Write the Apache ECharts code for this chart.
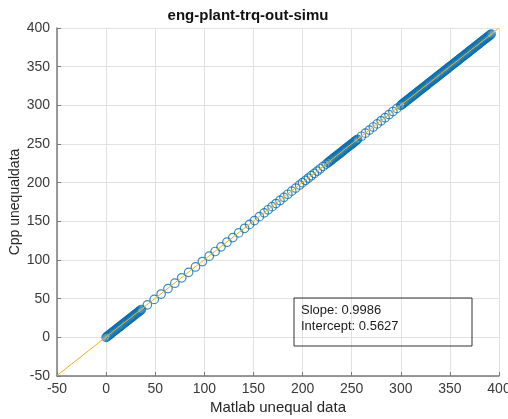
<!DOCTYPE html>
<html>
<head>
<meta charset="utf-8">
<script src="https://cdn.jsdelivr.net/npm/echarts@6/dist/echarts.min.js"></script>
<style>
  html, body { margin: 0; padding: 0; background: #fff; }
  #chart { width: 508px; height: 419px; }
</style>
</head>
<body>
<div id="chart"></div>
<script>
// Matlab vs Cpp values (they sit on the y = x line)
const denseLow = [
  [0, 0], [1, 1], [2, 2], [3, 3], [4, 4], [5, 5], [6, 6], [7, 7], [8, 8], [9, 9],
  [10, 10], [11, 11], [12, 12], [13, 13], [14, 14], [15, 15], [16, 16], [17, 17],
  [18, 18], [19, 19], [20, 20], [21, 21], [22, 22], [23, 23], [24, 24], [25, 25],
  [26, 26], [27, 27], [28, 28], [29, 29], [30, 30], [31, 31], [32, 32], [33, 33],
  [34, 34], [35, 35], [36, 36]
];
const sparseMid = [
  [42, 42], [49, 49], [56, 56], [63, 63], [70, 70], [77, 77], [84, 84], [91, 91],
  [98, 98], [105, 105], [111, 111], [117, 117], [123, 123], [129, 129], [135, 135],
  [141, 141], [146, 146], [151, 151], [156, 156], [161, 161], [165, 165], [169, 169],
  [173, 173], [177, 177], [181, 181], [185, 185], [189, 189], [193, 193], [197, 197],
  [200, 200], [203, 203], [206, 206], [209, 209], [212, 212], [215, 215], [218, 218],
  [221, 221], [224, 224]
];
const denseMid = [
  [226, 226], [227, 227], [228, 228], [229, 229], [230, 230], [231, 231], [232, 232],
  [233, 233], [234, 234], [235, 235], [236, 236], [237, 237], [238, 238], [239, 239],
  [240, 240], [241, 241], [242, 242], [243, 243], [244, 244], [245, 245], [246, 246],
  [247, 247], [248, 248], [249, 249], [250, 250], [251, 251], [252, 252], [253, 253],
  [254, 254], [255, 255], [256, 256]
];
const sparseHigh = [
  [260, 260], [264, 264], [268, 268], [272, 272], [276, 276], [280, 280], [284, 284],
  [288, 288], [292, 292], [296, 296]
];
const denseHigh = [
  [300, 300], [301, 301], [302, 302], [303, 303], [304, 304], [305, 305], [306, 306],
  [307, 307], [308, 308], [309, 309], [310, 310], [311, 311], [312, 312], [313, 313],
  [314, 314], [315, 315], [316, 316], [317, 317], [318, 318], [319, 319], [320, 320],
  [321, 321], [322, 322], [323, 323], [324, 324], [325, 325], [326, 326], [327, 327],
  [328, 328], [329, 329], [330, 330], [331, 331], [332, 332], [333, 333], [334, 334],
  [335, 335], [336, 336], [337, 337], [338, 338], [339, 339], [340, 340], [341, 341],
  [342, 342], [343, 343], [344, 344], [345, 345], [346, 346], [347, 347], [348, 348],
  [349, 349], [350, 350], [351, 351], [352, 352], [353, 353], [354, 354], [355, 355],
  [356, 356], [357, 357], [358, 358], [359, 359], [360, 360], [361, 361], [362, 362],
  [363, 363], [364, 364], [365, 365], [366, 366], [367, 367], [368, 368], [369, 369],
  [370, 370], [371, 371], [372, 372], [373, 373], [374, 374], [375, 375], [376, 376],
  [377, 377], [378, 378], [379, 379], [380, 380], [381, 381], [382, 382], [383, 383],
  [384, 384], [385, 385], [386, 386], [387, 387], [388, 388], [389, 389], [390, 390],
  [391, 391], [392, 392]
];
// least squares fit line end points
const fitLine = [[-50, -49.37], [400, 400.0]];
const fitText = ['Slope: 0.9986', 'Intercept: 0.5627'];

const points = [].concat(denseLow, sparseMid, denseMid, sparseHigh, denseHigh);

const font = 'Liberation Sans, Arial, sans-serif';
const chart = echarts.init(document.getElementById('chart'));

const axisCommon = {
  type: 'value',
  min: -50,
  max: 400,
  interval: 50,
  nameLocation: 'middle',
  nameMoveOverlap: false,
  axisLine: { show: true, onZero: false, lineStyle: { color: '#7a7a7a', width: 1.5 } },
  axisTick: { show: true, inside: true, length: 4, lineStyle: { color: '#7a7a7a' } },
  axisLabel: { fontFamily: font, fontSize: 14, color: '#3a3a3a' },
  splitLine: { show: true, lineStyle: { color: '#e2e2e2', width: 1 } }
};

chart.setOption({
  animation: false,
  backgroundColor: '#fff',
  title: {
    text: 'eng-plant-trq-out-simu',
    left: 243,
    textAlign: 'center',
    top: 3,
    textStyle: { fontFamily: font, fontSize: 15, fontWeight: 'bold', color: '#111' }
  },
  grid: {
    left: 57, right: 9, top: 28, bottom: 43,
    containLabel: false,
    outerBoundsMode: 'none'
  },
  xAxis: Object.assign({}, axisCommon, {
    name: 'Matlab unequal data',
    nameGap: 24,
    nameTextStyle: { fontFamily: font, fontSize: 15, color: '#262626' },
    axisLabel: Object.assign({}, axisCommon.axisLabel, { margin: 6 })
  }),
  yAxis: Object.assign({}, axisCommon, {
    name: 'Cpp unequaldata',
    nameGap: 35,
    nameTextStyle: { fontFamily: font, fontSize: 14, color: '#262626' },
    axisLabel: Object.assign({}, axisCommon.axisLabel, { margin: 7 })
  }),
  series: [
    {
      type: 'scatter',
      data: points,
      symbol: 'circle',
      symbolSize: 8.5,
      itemStyle: { color: 'rgba(255,255,255,0)', borderColor: '#0a6fae', borderWidth: 1.2 },
      z: 2
    },
    {
      type: 'line',
      data: fitLine,
      showSymbol: false,
      symbol: 'none',
      lineStyle: { color: '#EDB120', width: 1 },
      z: 3
    }
  ],
  graphic: [
    {
      type: 'rect',
      shape: { x: 294, y: 298, width: 178, height: 48 },
      style: { fill: 'none', stroke: '#333', lineWidth: 1 },
      z: 10
    },
    {
      type: 'text',
      x: 301,
      y: 302,
      style: {
        text: fitText.join('\n'),
        fontFamily: font,
        fontSize: 13,
        lineHeight: 16,
        fill: '#1a1a1a'
      },
      z: 10
    }
  ]
});
</script>
</body>
</html>
